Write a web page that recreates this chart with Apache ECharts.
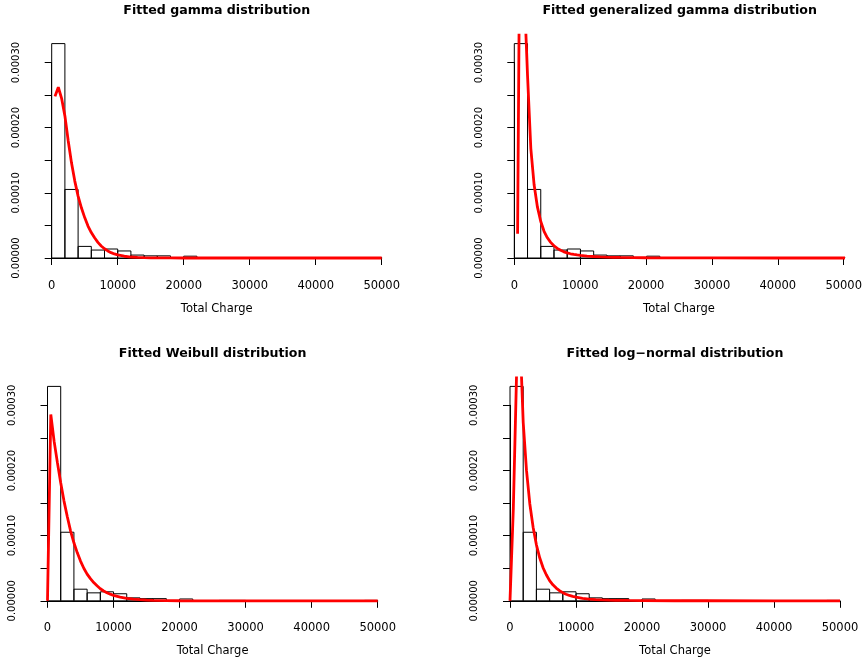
<!DOCTYPE html>
<html>
<head>
<meta charset="utf-8">
<title>Fitted distributions</title>
<script src="https://cdn.jsdelivr.net/npm/echarts@6/dist/echarts.min.js"></script>
<style>
  html, body { margin: 0; background: #fff; }
  #chart { width: 865px; height: 663px; }
</style>
</head>
<body>
<div id="chart"></div>
<script>
// histogram of Total Charge (density scale), bin width 2000
const binEdges = [0, 2000, 4000, 6000, 8000, 10000, 12000, 14000, 16000, 18000, 20000, 22000, 24000,
  26000, 28000, 30000, 32000, 34000, 36000, 38000, 40000, 42000, 44000, 46000, 48000, 50000];
const binDensity = [0.000329, 0.0001052, 0.0000178, 0.0000122, 0.0000138, 0.0000108, 0.0000045, 0.0000033,
  0.0000033, 0, 0.0000028, 0, 0, 0.0000006, 0.0000006, 0, 0, 0, 0, 0, 0, 0, 0, 0, 0.0000006];

// fitted density curves
const curveX = [0, 500, 1000, 1500, 2000, 2500, 3000, 3500, 4000, 4500, 5000, 5500, 6000, 6500, 7000, 7500,
  8000, 8500, 9000, 9500, 10000, 11000, 12000, 13000, 14000, 15000, 16000, 18000, 20000, 25000, 30000, 40000, 50000];
const gammaY = [null, 0.000248, 0.000262, 0.000245, 0.000218, 0.000180, 0.000146, 0.000118, 0.000095, 0.000077,
  0.000062, 0.000049, 0.000039, 0.000031, 0.000024, 0.0000185, 0.0000142, 0.0000108, 0.0000082, 0.0000062,
  0.0000047, 0.0000027, 0.0000015, 0.0000009, 0.0000005, 0.0000003, 0.0000002, 0.0000001, 0, 0, 0, 0, 0];
const genGammaY = [null, 0.0000373, 0.00075, 0.00041, 0.00028, 0.000168, 0.000112, 0.000078, 0.000056, 0.000041,
  0.000031, 0.000024, 0.0000188, 0.0000148, 0.0000118, 0.0000095, 0.0000078, 0.0000065, 0.0000055, 0.0000047,
  0.000004, 0.000003, 0.0000023, 0.0000018, 0.0000014, 0.0000011, 0.0000009, 0.0000006, 0.0000004, 0.0000002,
  0.0000001, 0, 0];
const weibullY = [0, 0.000286, 0.000245, 0.000212, 0.000181, 0.000153, 0.000129, 0.000107, 0.000089, 0.000074,
  0.000061, 0.000050, 0.000041, 0.000034, 0.000028, 0.000023, 0.0000185, 0.000015, 0.0000123, 0.0000102,
  0.0000084, 0.0000056, 0.0000038, 0.0000025, 0.0000017, 0.0000011, 0.0000007, 0.0000003, 0.0000001, 0, 0, 0, 0];
const logNormalY = [0, 0.00014, 0.00035, 0.00041, 0.000274, 0.0002, 0.000149, 0.000113, 0.000086, 0.000066,
  0.000051, 0.00004, 0.000031, 0.0000245, 0.0000195, 0.0000155, 0.0000125, 0.0000101, 0.0000082, 0.0000067,
  0.0000055, 0.0000038, 0.0000027, 0.0000019, 0.0000014, 0.000001, 0.0000008, 0.0000005, 0.0000003, 0.0000001,
  0.0000001, 0, 0];

const titles = ['Fitted gamma distribution', 'Fitted generalized gamma distribution',
  'Fitted Weibull distribution', 'Fitted log\u2212normal distribution'];
const curves = [gammaY, genGammaY, weibullY, logNormalY];
const xTicks = [0, 10000, 20000, 30000, 40000, 50000];
const yTicks = [0, 0.0001, 0.0002, 0.0003];

// pixel positions of x = 0 / 50000 and y = 0 / 0.0003 in each panel
const panels = [
  { x0: 51.7, x1: 381.7, y0: 258.0, y1: 62.5, titleTop: 4 },
  { x0: 514.3, x1: 845.0, y0: 258.0, y1: 62.5, titleTop: 4 },
  { x0: 47.5, x1: 377.7, y0: 600.8, y1: 405.3, titleTop: 347 },
  { x0: 510.0, x1: 840.0, y0: 600.8, y1: 405.3, titleTop: 347 },
];

// R style 4% padding around the data range
const xLo = -2000, xHi = 52000;
const yHi = Math.max(...binDensity) * 1.04, yLo = -Math.max(...binDensity) * 0.04;

const FONT = 'DejaVu Sans';
const black = '#000';
const yStep = (yTicks[1] - yTicks[0]) / 2;

const option = {
  animation: false,
  backgroundColor: '#fff',
  title: [], grid: [], xAxis: [], yAxis: [], series: [],
};

panels.forEach((p, i) => {
  const sx = (p.x1 - p.x0) / (xTicks[xTicks.length - 1] - xTicks[0]);
  const sy = (p.y0 - p.y1) / (yTicks[yTicks.length - 1] - yTicks[0]);
  const L = p.x0 + xLo * sx, R = p.x0 + xHi * sx;
  const T = p.y0 - yHi * sy, B = p.y0 - yLo * sy;

  option.title.push({
    text: titles[i], left: (L + R) / 2, top: p.titleTop, textAlign: 'center', padding: 0,
    textStyle: { fontFamily: FONT, fontWeight: 'bold', fontSize: 12.6, color: black },
  });

  // plotting region
  option.grid.push({ left: L, top: T, width: R - L, height: B - T });
  option.xAxis.push({ gridIndex: 2 * i, type: 'value', min: xLo, max: xHi, show: false });
  option.yAxis.push({ gridIndex: 2 * i, type: 'value', min: yLo, max: yHi, show: false });

  // axes only span the tick range, like R
  option.grid.push({ left: p.x0, top: p.y1, width: p.x1 - p.x0, height: p.y0 - p.y1 });
  option.xAxis.push({
    gridIndex: 2 * i + 1, type: 'value', min: xTicks[0], max: xTicks[xTicks.length - 1],
    interval: xTicks[1] - xTicks[0], offset: B - p.y0,
    axisLine: { show: true, lineStyle: { color: black, width: 1 } },
    axisTick: { show: true, length: 7, lineStyle: { color: black, width: 1 } },
    axisLabel: { margin: 13, color: black, fontFamily: FONT, fontSize: 11.5, formatter: v => String(v) },
    splitLine: { show: false },
    name: 'Total Charge', nameLocation: 'middle', nameGap: 36,
    nameTextStyle: { color: black, fontFamily: FONT, fontSize: 11.5 },
  });
  option.yAxis.push({
    gridIndex: 2 * i + 1, type: 'value', min: yTicks[0], max: yTicks[yTicks.length - 1],
    interval: yStep, offset: p.x0 - L,
    axisLine: { show: true, lineStyle: { color: black, width: 1 } },
    axisTick: { show: true, length: 7, lineStyle: { color: black, width: 1 } },
    axisLabel: {
      rotate: 90, margin: 17, color: black, fontFamily: FONT, fontSize: 10,
      formatter: v => {
        const k = Math.round(v / yStep);
        return k % 2 ? '' : (k * yStep).toFixed(5);
      },
    },
    splitLine: { show: false },
  });

  option.series.push({
    type: 'custom', xAxisIndex: 2 * i, yAxisIndex: 2 * i, silent: true,
    data: binDensity.map((d, k) => [binEdges[k], binEdges[k + 1], d]),
    renderItem: (params, api) => {
      const a = api.coord([api.value(0), api.value(2)]);
      const b = api.coord([api.value(1), 0]);
      return {
        type: 'rect',
        shape: { x: a[0], y: a[1], width: b[0] - a[0], height: b[1] - a[1] },
        style: { fill: 'none', stroke: black, lineWidth: 1 },
      };
    },
  });

  option.series.push({
    type: 'line', xAxisIndex: 2 * i, yAxisIndex: 2 * i, silent: true,
    data: curveX.map((x, k) => [x, curves[i][k]]).filter(d => d[1] !== null),
    showSymbol: false, symbol: 'none', clip: true,
    lineStyle: { color: '#ff0000', width: 2.8 },
  });
});

const chart = echarts.init(document.getElementById('chart'));
chart.setOption(option);
</script>
</body>
</html>
